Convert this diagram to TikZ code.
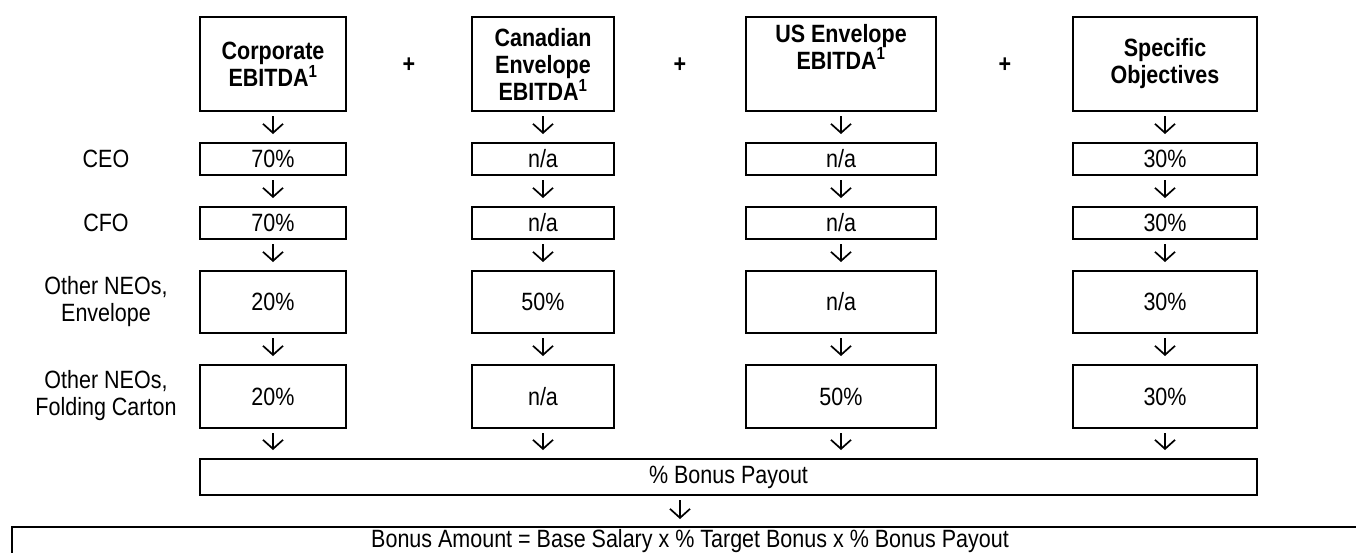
\documentclass[tikz,border=0pt]{standalone}
\usepackage{fontspec}
\setmainfont{Liberation Sans}[FakeStretch=0.86]
\usetikzlibrary{arrows.meta}
\newcommand\bxfont{\fontsize{25}{27}\selectfont}

\begin{document}
\begin{tikzpicture}[x=1pt,y=-1pt,
  box/.style={draw=black, line width=2pt, inner sep=0pt, align=center, font=\bxfont},
  hd/.style={box, font=\bxfont\bfseries, minimum height=94pt},
  lbl/.style={inner sep=0pt, align=center, font=\bxfont},
  arr/.style={line width=1.7pt, -{Straight Barb[length=9pt,width=20pt]}, shorten <=4pt, shorten >=8pt}]
\useasboundingbox (0,0) rectangle (1356,552);
% headers
\node[hd, minimum width=146pt] (hd1) at (273,64) {Corporate\\EBITDA\textsuperscript{1}};
\node[hd, minimum width=142pt] (hd2) at (543,64) {Canadian\\Envelope\\EBITDA\textsuperscript{1}};
\node[hd, minimum width=190pt] (hd3) at (841,64) {US Envelope\\EBITDA\textsuperscript{1}\\\strut};
\node[hd, minimum width=184pt] (hd4) at (1165,64) {Specific\\Objectives};
\node[lbl, font=\bxfont\bfseries] (pl1) at (409,65) {+};
\node[lbl, font=\bxfont\bfseries] (pl2) at (680,65) {+};
\node[lbl, font=\bxfont\bfseries] (pl3) at (1005,65) {+};
% row labels
\node[lbl] (lceo) at (106,159) {CEO};
\node[lbl] (lcfo) at (106,223) {CFO};
\node[lbl] (lenv) at (106,302) {Other NEOs,\\Envelope};
\node[lbl] (lfold) at (106,396) {Other NEOs,\\Folding Carton};
% CEO
\node[box, minimum width=146pt, minimum height=32pt] (ceo1) at (273,159) {70\%};
\node[box, minimum width=142pt, minimum height=32pt] (ceo2) at (543,159) {n/a};
\node[box, minimum width=190pt, minimum height=32pt] (ceo3) at (841,159) {n/a};
\node[box, minimum width=184pt, minimum height=32pt] (ceo4) at (1165,159) {30\%};
% CFO
\node[box, minimum width=146pt, minimum height=32pt] (cfo1) at (273,223) {70\%};
\node[box, minimum width=142pt, minimum height=32pt] (cfo2) at (543,223) {n/a};
\node[box, minimum width=190pt, minimum height=32pt] (cfo3) at (841,223) {n/a};
\node[box, minimum width=184pt, minimum height=32pt] (cfo4) at (1165,223) {30\%};
% other NEOs, envelope
\node[box, minimum width=146pt, minimum height=62pt] (env1) at (273,302) {20\%};
\node[box, minimum width=142pt, minimum height=62pt] (env2) at (543,302) {50\%};
\node[box, minimum width=190pt, minimum height=62pt] (env3) at (841,302) {n/a};
\node[box, minimum width=184pt, minimum height=62pt] (env4) at (1165,302) {30\%};
% other NEOs, folding carton
\node[box, minimum width=146pt, minimum height=63pt] (fold1) at (273,396.5) {20\%};
\node[box, minimum width=142pt, minimum height=63pt] (fold2) at (543,396.5) {n/a};
\node[box, minimum width=190pt, minimum height=63pt] (fold3) at (841,396.5) {50\%};
\node[box, minimum width=184pt, minimum height=63pt] (fold4) at (1165,396.5) {30\%};
% payout
\node[box, minimum width=1057pt, minimum height=36pt] (payout) at (728.5,477) {\% Bonus Payout};
\node[box, minimum width=1356pt, minimum height=33pt, text height=14pt, text depth=6pt] (amount) at (690,543) {Bonus Amount = Base Salary x \% Target Bonus x \% Bonus Payout};
\coordinate (pin) at (680,527);
\foreach \i in {1,...,4} {
  \draw[arr] (hd\i) -- (ceo\i);
  \draw[arr] (ceo\i) -- (cfo\i);
  \draw[arr] (cfo\i) -- (env\i);
  \draw[arr] (env\i) -- (fold\i);
  \draw[arr] (fold\i) -- (fold\i |- payout.north);
}
\draw[arr] (pin |- payout.south) -- (pin);
\end{tikzpicture}
\end{document}
